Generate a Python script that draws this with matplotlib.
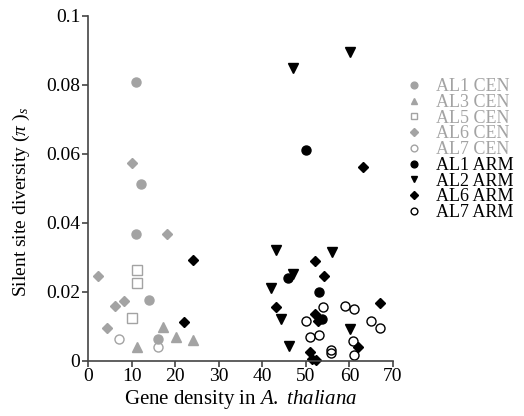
import matplotlib
matplotlib.use("Agg")
import matplotlib.pyplot as plt

plt.rcParams['font.family'] = ['Liberation Serif', 'DejaVu Serif']
plt.rcParams['mathtext.fontset'] = 'custom'
plt.rcParams['mathtext.rm'] = 'Liberation Serif'
plt.rcParams['mathtext.it'] = 'Liberation Serif:italic'

GRAY = '#a3a3a3'

# AL1 CEN (gray filled circles)
al1_cen_x = [11.1, 12.1, 11.1, 14.1, 16.1]
al1_cen_y = [0.0807, 0.0513, 0.0367, 0.0175, 0.0062]
# AL3 CEN (gray triangles)
al3_cen_x = [17.1, 20.2, 24.2, 11.2]
al3_cen_y = [0.0098, 0.0067, 0.0060, 0.0038]
# AL5 CEN (gray open squares)
al5_cen_x = [11.2, 11.2, 10.2]
al5_cen_y = [0.0264, 0.0224, 0.0124]
# AL6 CEN (gray diamonds)
al6_cen_x = [10.2, 18.1, 2.2, 6.2, 8.2, 4.3]
al6_cen_y = [0.0574, 0.0367, 0.0246, 0.0159, 0.0173, 0.0094]
# AL7 CEN (gray open circles)
al7_cen_x = [7.0, 16.1]
al7_cen_y = [0.0063, 0.0038]
# AL1 ARM (black circles)
al1_arm_x = [50.0, 45.9, 53.0, 53.6]
al1_arm_y = [0.0611, 0.0240, 0.0199, 0.0121]
# AL2 ARM (black down triangles)
al2_arm_x = [60.2, 47.1, 43.2, 56.1, 47.1, 41.9, 44.2, 60.1, 46.2]
al2_arm_y = [0.0896, 0.0848, 0.0320, 0.0314, 0.0252, 0.0211, 0.0120, 0.0092, 0.0043]
# AL6 ARM (black diamonds)
al6_arm_x = [24.2, 22.0, 63.1, 52.2, 54.1, 43.2, 52.1, 67.1, 52.8, 62.0, 51.0, 51.5, 52.3]
al6_arm_y = [0.0291, 0.0113, 0.0562, 0.0288, 0.0246, 0.0156, 0.0136, 0.0166, 0.0115, 0.0039, 0.0024, 0.0004, 0.0002]
# AL7 ARM (black open circles)
al7_arm_x = [54.0, 59.0, 61.0, 50.0, 64.9, 67.0, 53.0, 51.0, 55.8, 55.8, 60.8, 61.0]
al7_arm_y = [0.0154, 0.0157, 0.0149, 0.0114, 0.0116, 0.0094, 0.0073, 0.0067, 0.0031, 0.0023, 0.0056, 0.0015]

labels = ['AL1 CEN', 'AL3 CEN', 'AL5 CEN', 'AL6 CEN', 'AL7 CEN',
          'AL1 ARM', 'AL2 ARM', 'AL6 ARM', 'AL7 ARM']

fig = plt.figure(figsize=(5.24, 4.16), dpi=100)
ax = fig.add_axes([0.168, 0.1334, 0.582, 0.8286])

series = [
    (al1_cen_x, al1_cen_y, 'o', GRAY, GRAY, 6.5),
    (al3_cen_x, al3_cen_y, '^', GRAY, GRAY, 6.5),
    (al5_cen_x, al5_cen_y, 's', 'none', GRAY, 6.5),
    (al6_cen_x, al6_cen_y, 'D', GRAY, GRAY, 5.2),
    (al7_cen_x, al7_cen_y, 'o', 'none', GRAY, 6.5),
    (al1_arm_x, al1_arm_y, 'o', 'black', 'black', 6.5),
    (al2_arm_x, al2_arm_y, 'v', 'black', 'black', 6.5),
    (al6_arm_x, al6_arm_y, 'D', 'black', 'black', 5.2),
    (al7_arm_x, al7_arm_y, 'o', 'none', 'black', 6.5),
]
handles = []
for (x, y, m, fc, ec, ms), lab in zip(series, labels):
    h, = ax.plot(x, y, linestyle='none', marker=m, markerfacecolor=fc,
                 markeredgecolor=ec, markersize=ms, markeredgewidth=1.0,
                 label=lab, clip_on=False)
    handles.append(h)

ax.set_xlim(0, 70)
ax.set_ylim(0, 0.1)
ax.set_xticks(range(0, 71, 10))
ax.set_yticks([0, 0.02, 0.04, 0.06, 0.08, 0.1])
ax.set_yticklabels(['0', '0.02', '0.04', '0.06', '0.08', '0.1'])
for s in ['top', 'right']:
    ax.spines[s].set_visible(False)
for s in ['left', 'bottom']:
    ax.spines[s].set_color('#444444')
    ax.spines[s].set_linewidth(1.2)
ax.tick_params(direction='out', length=4, width=1.2, color='#444444',
               labelsize=14, pad=1.5)

ax.set_xlabel(r'Gene density in $\mathit{A.}$ $\mathit{thaliana}$', fontsize=15, labelpad=2)
ax.set_ylabel(r'Silent site diversity ($\pi$ )$_s$', fontsize=14)
ax.yaxis.set_label_coords(-0.185, 0.46)

colors = [GRAY] * 5 + ['black'] * 4
leg = ax.legend(handles=handles, loc='upper left', bbox_to_anchor=(1.022, 0.84),
                frameon=False, fontsize=13, labelcolor=colors,
                handlelength=0.8, handletextpad=0.8, labelspacing=-0.07,
                borderaxespad=0, markerscale=0.75)

fig.savefig('out.png', dpi=100)
